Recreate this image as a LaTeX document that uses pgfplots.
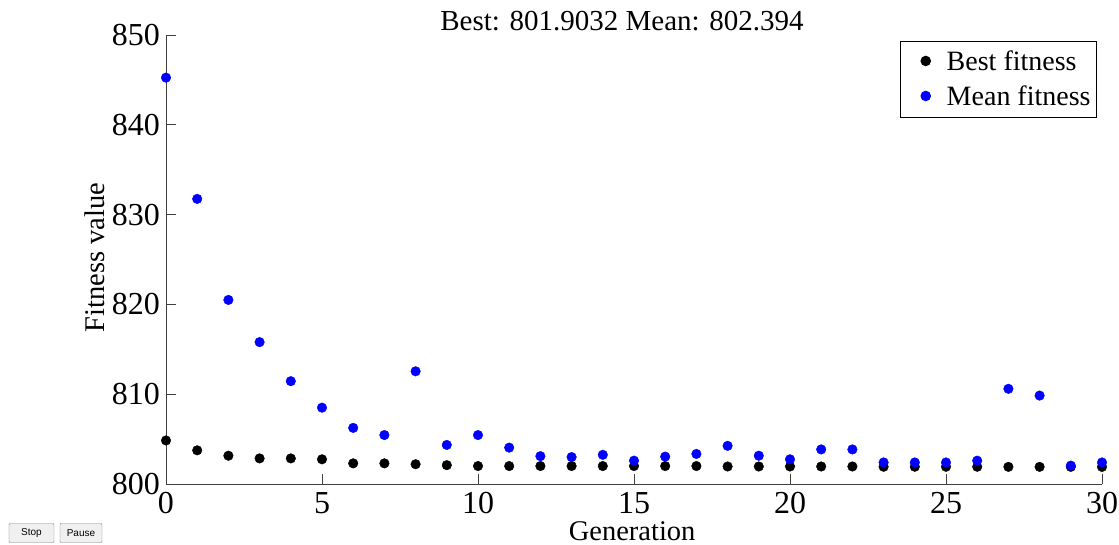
\documentclass[border=0pt]{standalone}
\usepackage{pgfplots}
\pgfplotsset{compat=1.18}
\usepackage{fontspec}
\setmainfont{Liberation Serif}
\setsansfont{Liberation Sans}
\pgfplotsset{dotlegend/.style={legend image code/.code={\path[draw=none,fill=none] (0pt,0pt) -- (40pt,0pt); \draw[##1] plot coordinates {(19pt,1pt)};}}}
\pgfplotstableread{
g best mean
0 804.85 845.25
1 803.75 831.75
2 803.15 820.5
3 802.85 815.8
4 802.85 811.45
5 802.75 808.5
6 802.3 806.25
7 802.3 805.45
8 802.2 812.55
9 802.1 804.35
10 802.0 805.45
11 802.0 804.05
12 802.0 803.1
13 802.0 803.0
14 802.0 803.25
15 802.0 802.6
16 802.0 803.05
17 802.0 803.35
18 801.95 804.25
19 801.95 803.15
20 801.95 802.75
21 801.95 803.85
22 801.95 803.85
23 801.92 802.4
24 801.92 802.4
25 801.92 802.4
26 801.92 802.6
27 801.91 810.6
28 801.91 809.85
29 801.91 802.05
30 801.9 802.4
}\datatable
\begin{document}
\begin{tikzpicture}[font=\fontsize{28}{33}\selectfont]
\path[use as bounding box] (-166pt,-60pt) rectangle (953pt,484pt);
\begin{axis}[
  at={(0pt,0pt)}, anchor=south west,
  scale only axis, width=936pt, height=449pt,
  xmin=0, xmax=30, ymin=800, ymax=850,
  axis x line*=bottom, axis y line*=left,
  axis line style={black!75, line width=0.9pt, -},
  xtick={0,5,...,30}, ytick={800,810,...,850},
  tick align=inside, major tick length=10pt,
  tick style={black!75, line width=0.9pt},
  /pgf/number format/assume math mode=true,
  /pgf/number format/.cd, 1000 sep={}, /pgfplots/.cd,
  tick label style={font=\fontsize{32}{36}\selectfont},
  xticklabel style={anchor=base, yshift=-29pt},
  yticklabel style={anchor=east, inner sep=0pt, xshift=-6pt},
  xlabel={Generation}, ylabel={Fitness value},
  label style={font=\fontsize{28.5}{33}\selectfont},
  xlabel style={at={(axis description cs:0.498,0)}, anchor=base, yshift=-56pt},
  ylabel style={at={(axis description cs:-0.0759,0.504)}, anchor=center},
  title={Best: 801.9032 Mean: 802.394},
  title style={font=\fontsize{29}{33}\selectfont, at={(0.5,1)}, anchor=base, xshift=-12pt, yshift=-2pt},
  legend style={at={(0.9947,0.9866)}, anchor=north east, draw=black, line width=0.9pt,
    font=\fontsize{28}{33}\selectfont, inner xsep=6pt, inner ysep=3pt, row sep=0pt, column sep=0pt,
    nodes={inner sep=0pt, text height=26pt, text depth=9pt}},
  legend cell align=left,
  clip=false,
]
\addplot[only marks, mark=*, mark size=4.8pt, color=black, dotlegend]
  table[x=g, y=best] {\datatable};
\addlegendentry{Best fitness}
\addplot[only marks, mark=*, mark size=4.8pt, color=blue, dotlegend]
  table[x=g, y=mean] {\datatable};
\addlegendentry{Mean fitness}
\end{axis}
\node[draw=gray, fill=gray!12, rounded corners=1pt, minimum width=45pt, minimum height=19pt, inner sep=0pt, font=\sffamily\fontsize{10}{11}\selectfont] at (-134.5pt,-49pt) {Stop};
\node[draw=gray, fill=gray!12, rounded corners=1pt, minimum width=42pt, minimum height=19pt, inner sep=0pt, font=\sffamily\fontsize{10}{11}\selectfont] at (-85pt,-49pt) {Pause};
\end{tikzpicture}
\end{document}
